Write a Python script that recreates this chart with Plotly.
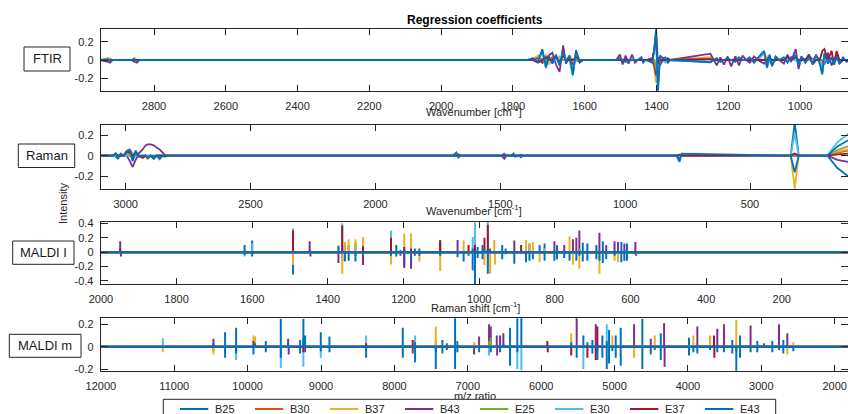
import plotly.graph_objects as go

# ---------------------------------------------------------------- series
series_names = ["B25", "B30", "B37", "B43", "E25", "E30", "E37", "E43"]
series_colors = ["#0072BD", "#D95319", "#EDB120", "#7E2F8E",
                 "#77AC30", "#4DBEEE", "#A2142F", "#0072BD"]

# ---------------------------------------------------------------- FTIR
# wavenumber grid on which the coefficients are sampled (cm^-1)
ftir_wn = [2950, 2928, 2922, 2915, 2862, 2855, 2848, 2840, 1760, 1745, 1730, 1718,
           1708, 1700, 1690, 1680, 1670, 1660, 1652, 1642, 1633, 1624, 1614, 1605,
           1512, 1502, 1494, 1486, 1478, 1468, 1460, 1452, 1442, 1437, 1430, 1412,
           1406, 1401, 1396, 1390, 1382, 1375, 1368, 1362, 1250, 1240, 1232, 1222,
           1212, 1202, 1192, 1180, 1170, 1160, 1150, 1140, 1128, 1118, 1100, 1092,
           1085, 1078, 1068, 1058, 1045, 1035, 1025, 1012, 1004, 996, 985, 975,
           965, 955, 945, 938, 932, 922, 912, 905, 898, 890, 880, 870, 860]
# non-zero coefficients (wavenumber, value)
ftir_B25 = [(2928, .01), (1718, .10), (1708, -.06), (1700, .03), (1690, -.02), (1680, .04),
            (1670, -.05), (1660, .08), (1652, -.02), (1642, .04), (1633, -.14), (1624, .08),
            (1614, -.02), (1406, .10), (1401, .30), (1396, -.30), (1390, .03), (1250, -.02),
            (1100, .08), (1092, -.07), (1085, .05), (1078, -.05), (1012, .04), (1004, -.04),
            (938, -.13), (932, .06)]
ftir_B30 = [(1745, .01), (1730, .04), (1708, .04), (1690, .03), (1642, .04), (1442, .02),
            (1401, -.10), (1250, .02)]
ftir_B37 = [(2928, .02), (2922, .015), (2855, .02), (1730, .05), (1718, -.04), (1708, .06),
            (1700, -.05), (1670, .04), (1642, .05), (1486, .02), (1406, -.10), (1401, -.25),
            (1396, -.20), (1250, .03), (1092, .04), (938, -.05)]
ftir_B43 = [(2928, -.02), (2922, -.03), (2855, -.02), (2848, -.03), (1730, .02), (1718, -.03),
            (1700, .05), (1690, .08), (1680, -.05), (1670, -.13), (1660, .16), (1652, -.04),
            (1642, .03), (1633, -.05), (1614, -.02), (1502, .06), (1494, -.05), (1486, .05),
            (1478, -.04), (1468, .06), (1460, -.03), (1412, .02), (1406, -.06), (1401, -.17),
            (1396, .03), (1390, -.06), (1368, .02), (1250, .07), (1232, -.06), (1222, .03),
            (1212, -.05), (1202, .04), (1192, -.07), (1180, .04), (1170, -.06), (1160, .05),
            (1140, -.03), (1128, .04), (1100, -.04), (1085, .04), (1078, -.06), (1068, .03),
            (1045, -.04), (1035, .06), (1025, -.02), (1012, .12), (1004, -.10), (996, .03),
            (975, .05), (955, .04), (932, -.05), (922, .08), (912, -.06), (898, .06), (890, -.04)]
ftir_E25 = [(1401, -.10), (1250, .015)]
ftir_E30 = [(1718, .08), (1708, -.09), (1700, .02), (1660, .08), (1633, -.16), (1624, .09),
            (1406, .10), (1401, .20), (1396, -.22), (1390, .04), (1375, -.03), (1250, -.02),
            (1100, .08), (1092, -.09), (1078, -.05), (1004, -.04), (938, -.14)]
ftir_E37 = [(1730, -.03), (1708, .03), (1680, .04), (1670, -.03), (1660, .05), (1624, .03),
            (1406, .12), (1401, .30), (1396, -.04), (1250, .01), (1085, .03), (1035, .03),
            (1012, .03), (975, .06), (965, -.05), (938, .10), (932, .12), (912, .10),
            (905, -.05), (898, .10)]
ftir_E43 = [(2928, .01), (2922, -.01), (2855, .01), (2848, -.01), (1745, .02), (1730, -.02),
            (1718, .12), (1708, -.08), (1700, .04), (1690, -.04), (1680, .06), (1670, -.06),
            (1660, .09), (1652, -.02), (1642, .05), (1633, -.17), (1624, .11), (1614, -.03),
            (1502, .02), (1486, -.02), (1442, .03), (1437, -.03), (1412, -.03), (1406, .12),
            (1401, .36), (1396, -.36), (1390, .05), (1382, .02), (1375, .03), (1368, -.03),
            (1250, -.025), (1232, .02), (1222, -.02), (1202, .02), (1180, -.02), (1170, .03),
            (1140, .03), (1128, -.03), (1118, .02), (1100, .10), (1092, -.08), (1085, .06),
            (1078, -.07), (1068, .04), (1045, .03), (1035, -.03), (1025, .03), (1012, .05),
            (1004, -.05), (996, .04), (985, -.03), (975, .03), (965, -.04), (955, .06),
            (945, -.04), (938, -.16), (932, .08), (922, -.04), (912, .03), (905, -.05),
            (898, .04), (890, -.04), (880, .03), (870, -.02)]

# ---------------------------------------------------------------- Raman
raman_wn = [3100, 3052, 3040, 3032, 3020, 3008, 2996, 2984, 2972, 2960, 2948, 2932,
            2920, 2912, 2900, 2888, 2876, 2864, 2852, 2844, 2832, 1690, 1676, 1668, 1660,
            1495, 1484, 1475, 1455, 1447, 1440, 1425, 1417, 1410, 795, 782, 774,
            337, 321, 305, 190, 150, 107]
raman_B25 = [(3040, .02), (3032, -.02), (2984, .03), (2972, -.04), (2960, .02), (1676, .02),
             (1668, -.01), (782, -.03), (321, .32), (150, -.12), (107, -.20)]
raman_B30 = [(2996, .05), (2984, .06), (2972, .02), (2932, -.02), (2912, -.03), (2888, -.025),
             (1447, .01), (150, .03), (107, .05)]
raman_B37 = [(3032, .01), (2996, .04), (2972, .02), (2932, -.02), (2912, -.03), (2888, -.03),
             (2864, -.02), (321, -.32), (150, .04), (107, .06)]
raman_B43 = [(3040, -.01), (3032, -.02), (2984, -.05), (2972, -.11), (2960, -.04), (2948, .02),
             (2932, .06), (2920, .10), (2912, .11), (2900, .11), (2888, .10), (2876, .08),
             (2864, .06), (2852, .03), (2844, .01), (1484, -.03), (1417, -.015),
             (150, -.04), (107, -.06)]
raman_E25 = [(2912, -.02), (2888, -.02), (150, .055), (107, .09)]
raman_E30 = [(3032, -.03), (2984, .05), (2972, -.06), (2960, .04), (2888, -.03), (2864, -.035),
             (1676, .02), (321, .22), (150, .13), (107, .21)]
raman_E37 = [(3040, .02), (2996, .04), (2984, .03), (2960, .03), (2932, -.02), (2912, -.02),
             (2888, -.025), (1668, .01), (782, .01), (321, .02), (150, .012), (107, .02)]
raman_E43 = [(3040, .02), (3032, -.03), (3020, .02), (2996, .03), (2984, .06), (2972, -.05),
             (2960, .05), (2948, -.01), (2912, -.02), (2888, -.03), (2864, -.03), (2844, -.01),
             (1676, .03), (1668, -.02), (1484, .02), (1447, .02), (1440, -.01), (1417, .01),
             (782, -.06), (774, .02), (321, -.16), (150, .09), (107, .15)]

# ---------------------------------------------------------------- MALDI I (peaks)
maldi_i_span = [2000, 20]
maldi_i_B25 = [(1620, .10), (1600, .16), (1492, -.31), (1362, -.12), (1355, .10), (1345, .10),
               (1327, .13), (1233, -.14), (1219, .10), (1198, -.20), (1158, .05), (1028, -.05),
               (1017, -.25), (1004, .07), (991, .10), (939, .10), (867, .12), (827, .12),
               (794, .10), (726, .13), (714, .12), (690, .10), (673, -.15), (624, .14), (609, .12)]
maldi_i_B30 = [(1362, .05), (1233, .04), (1180, -.03), (977, .05), (735, .04)]
maldi_i_B37 = [(1492, -.18), (1372, .10), (1362, -.30), (1355, .14), (1345, .18), (1327, .18),
               (1307, .21), (1233, -.17), (1219, -.04), (1198, .26), (1180, .26), (1158, -.13),
               (1103, -.26), (1041, .16), (986, -.18), (977, -.20), (971, -.30), (960, .17),
               (958, -.17), (889, -.03), (876, .17), (867, .12), (858, .14), (840, -.14),
               (827, .05), (761, .22), (752, -.17), (735, -.23), (682, -.30), (642, -.12),
               (633, -.14)]
maldi_i_B43 = [(1949, .15), (1947, -.06), (1448, .15), (1446, -.06), (1372, -.15), (1327, -.05),
               (1307, -.18), (1208, -.05), (1198, -.22), (1180, -.23), (1170, -.05), (1103, .17),
               (1057, .17), (930, -.03), (907, .16), (801, .15), (775, .10), (752, .18),
               (743, .20), (735, .30), (682, .27), (664, .10), (642, .15), (633, .14),
               (616, .12), (587, .14), (585, -.05)]
maldi_i_E25 = [(1492, .05), (977, -.05), (735, .05)]
maldi_i_E30 = [(1620, -.06), (1600, .12), (1492, .33), (1362, .40), (1233, .30), (1017, .21),
               (1011, .41), (977, .42)]
maldi_i_E37 = [(1949, .05), (1492, .30), (1362, .37), (1307, .08), (1233, .20), (1198, .07),
               (1180, .05), (1103, .15), (1028, .10), (1011, .10), (986, .20), (977, .38),
               (889, .10)]
maldi_i_E43 = [(1949, .02), (1620, -.04), (1600, -.06), (1492, .02), (1448, .03), (1372, .08),
               (1355, -.13), (1345, -.12), (1327, -.13), (1307, -.05), (1233, -.05), (1219, -.06),
               (1208, .03), (1198, .04), (1180, -.10), (1170, .05), (1158, -.05), (1103, -.05),
               (1057, -.07), (1041, -.13), (1017, .05), (1011, -.45), (1004, -.08), (991, -.10),
               (986, .05), (977, -.30), (971, .05), (939, -.10), (930, .05), (907, -.16),
               (876, -.14), (867, -.12), (858, -.10), (840, .10), (827, -.12), (801, -.12),
               (794, -.10), (775, -.08), (761, -.12), (743, -.12), (735, -.05), (726, -.13),
               (714, -.12), (690, -.10), (682, -.12), (673, .15), (664, -.10), (642, -.05),
               (633, .05), (624, -.14), (616, -.12), (609, -.12), (587, -.03)]

# ---------------------------------------------------------------- MALDI m (peaks)
maldi_m_span = [12000, 1800]
maldi_m_B25 = [(10307, .13), (10157, .17), (9752, .05), (9548, .25), (9285, .06), (9240, .25),
               (9003, .13), (8885, .09), (8385, -.10), (7886, .17), (7718, -.14), (7436, -.20),
               (7346, .06), (7173, .27), (7142, -.05), (6424, .17), (6325, .28), (6270, .28),
               (5425, .10), (5302, .06), (5166, .10), (5106, -.20), (5075, .15), (4984, .10),
               (4916, .17), (4621, .25), (4370, .12), (3985, .08), (3396, .06), (3290, .10),
               (3055, .05), (2850, .05), (2700, .06)]
maldi_m_B30 = [(10466, -.04), (7436, .05), (5234, -.05), (3341, -.05)]
maldi_m_B37 = [(11155, -.05), (10466, -.07), (9921, .10), (9898, .09), (7436, .18), (6914, .04),
               (5590, .12), (5030, .10), (4734, -.10), (4452, .10), (3926, .10), (3699, .10),
               (3341, .24), (2646, -.07), (2564, .04)]
maldi_m_B43 = [(10466, .07), (9921, .05), (9448, .07), (9440, -.07), (9217, -.05), (7750, -.06),
               (7286, -.03), (6914, -.07), (6846, .09), (6710, .20), (6687, .18), (6605, .10),
               (6600, -.08), (6560, .10), (6515, .12), (5516, .26), (5256, .20), (4734, .20),
               (4507, .07), (4325, .21), (4318, -.18), (3872, .18), (3600, .16), (3509, .20),
               (3146, .19), (2759, .20), (2646, .12)]
maldi_m_E25 = [(6710, .05), (6687, .08)]
maldi_m_E30 = [(11155, .075), (10157, -.12), (9548, -.19), (9240, -.18), (9003, -.10),
               (8385, .10), (7718, .10), (6710, -.08), (6325, -.20), (6270, -.21), (5425, -.20),
               (5106, .20)]
maldi_m_E37 = [(10157, -.04), (9240, -.05), (8385, .03), (7750, .06), (5916, .05), (5910, -.05),
               (5590, -.08), (5370, -.10), (5256, -.12), (5234, .18), (3645, .10), (3640, -.10)]
maldi_m_E43 = [(10466, .03), (10307, -.10), (10157, -.06), (9921, -.07), (9898, .03), (9752, -.05),
               (9548, -.10), (9448, .03), (9285, -.06), (9240, .08), (9217, .10), (9003, -.04),
               (8885, -.05), (7886, -.10), (7718, .04), (7436, -.05), (7346, -.06), (7286, .03),
               (7173, -.20), (7142, .05), (6846, -.05), (6687, -.05), (6560, -.05), (6515, .03),
               (6424, -.17), (6325, -.05), (5590, .04), (5516, -.10), (5370, .04), (5302, -.06),
               (5234, -.12), (5166, -.10), (5106, .05), (5075, -.15), (5030, -.04), (4984, -.10),
               (4916, -.17), (4621, -.20), (4507, -.07), (4452, -.03), (4370, -.12), (3985, -.08),
               (3926, -.05), (3872, -.06), (3699, -.03), (3600, -.05), (3509, -.05), (3396, -.06),
               (3341, -.24), (3290, -.10), (3146, -.05), (3055, -.05), (2963, .03), (2850, -.05),
               (2759, -.03), (2700, -.06), (2564, -.04)]

# ---------------------------------------------------------------- tick labels
ftir_xticks = [2800, 2600, 2400, 2200, 2000, 1800, 1600, 1400, 1200, 1000]
raman_xticks = [3000, 2500, 2000, 1500, 1000, 500]
maldi_i_xticks = [2000, 1800, 1600, 1400, 1200, 1000, 800, 600, 400, 200]
maldi_m_xticks = [12000, 11000, 10000, 9000, 8000, 7000, 6000, 5000, 4000, 3000, 2000]
coef_yticks = [-0.2, 0, 0.2]
maldi_i_yticks = [-0.4, -0.2, 0, 0.2, 0.4]

# ---------------------------------------------------------------- layout helpers
W, H = 848, 414
AX = "#262626"
FONT = "Liberation Sans, Arial, Helvetica, sans-serif"


def fx(px):
    return px / W


def fy(py):
    return 1 - py / H


def curve_xy(grid, pairs):
    lookup = dict(pairs)
    xs = sorted(set(grid) | set(lookup), reverse=True)
    return xs, [lookup.get(x, 0.0) for x in xs]


def stick_xy(span, pairs):
    xs, ys = [span[0]], [0.0]
    for pos, val in sorted(pairs, key=lambda p: -p[0]):
        xs += [pos, pos, pos]
        ys += [0.0, val, 0.0]
    xs.append(span[1])
    ys.append(0.0)
    return xs, ys


panels = [
    dict(label="FTIR", kind="curve", base=ftir_wn,
         series=[ftir_B25, ftir_B30, ftir_B37, ftir_B43, ftir_E25, ftir_E30, ftir_E37, ftir_E43],
         xrange=[2948.5, 866.3], yrange=[-0.338, 0.338], xticks=ftir_xticks, yticks=coef_yticks,
         top=29.3, bottom=90.7, box=(24, 70, 47, 71)),
    dict(label="Raman", kind="curve", base=raman_wn,
         series=[raman_B25, raman_B30, raman_B37, raman_B43, raman_E25, raman_E30, raman_E37, raman_E43],
         xrange=[3100, 107.6], yrange=[-0.323, 0.297], xticks=raman_xticks, yticks=coef_yticks,
         top=125, bottom=189, box=(18.3, 74.7, 144, 167.5)),
    dict(label="MALDI I", kind="stick", base=maldi_i_span,
         series=[maldi_i_B25, maldi_i_B30, maldi_i_B37, maldi_i_B43,
                 maldi_i_E25, maldi_i_E30, maldi_i_E37, maldi_i_E43],
         xrange=[2000.5, 24.8], yrange=[-0.442, 0.418], xticks=maldi_i_xticks, yticks=maldi_i_yticks,
         top=222, bottom=284, box=(12.7, 74, 241, 264.3)),
    dict(label="MALDI m", kind="stick", base=maldi_m_span,
         series=[maldi_m_B25, maldi_m_B30, maldi_m_B37, maldi_m_B43,
                 maldi_m_E25, maldi_m_E30, maldi_m_E37, maldi_m_E43],
         xrange=[12002, 1818.8], yrange=[-0.215, 0.254], xticks=maldi_m_xticks, yticks=coef_yticks,
         top=318.3, bottom=370.7, box=(9.3, 81, 334.3, 357.3)),
]

fig = go.Figure()
tick_font = dict(family=FONT, size=11, color=AX)

for i, p in enumerate(panels):
    sfx = "" if i == 0 else str(i + 1)
    for name, color, pairs in zip(series_names, series_colors, p["series"]):
        if p["kind"] == "curve":
            xs, ys = curve_xy(p["base"], pairs)
            width = 1.8
        else:
            xs, ys = stick_xy(p["base"], pairs)
            width = 2.0
        fig.add_trace(go.Scatter(x=xs, y=ys, mode="lines", name=name,
                                 line=dict(color=color, width=width, simplify=False),
                                 xaxis="x" + sfx, yaxis="y" + sfx,
                                 showlegend=False, hoverinfo="skip"))

    fig.update_layout(**{
        "xaxis" + sfx: dict(domain=[fx(100.7), 1], anchor="y" + sfx, range=p["xrange"],
                            tickmode="array", tickvals=p["xticks"],
                            ticktext=[str(t) for t in p["xticks"]],
                            ticks="inside", ticklen=6, tickwidth=1, tickcolor=AX,
                            showline=True, linecolor=AX, linewidth=1, mirror="ticks",
                            showgrid=False, zeroline=False, tickfont=tick_font,
                            ticklabelstandoff=5, fixedrange=True),
        "yaxis" + sfx: dict(domain=[fy(p["bottom"]), fy(p["top"])], anchor="x" + sfx,
                            range=p["yrange"], tickmode="array", tickvals=p["yticks"],
                            ticktext=[f"{t:g}" for t in p["yticks"]],
                            ticks="inside", ticklen=7, tickwidth=1, tickcolor=AX,
                            showline=True, linecolor=AX, linewidth=1, mirror="ticks",
                            showgrid=False, zeroline=False, tickfont=tick_font,
                            ticklabelstandoff=4, fixedrange=True),
    })

    x0, x1, y0, y1 = p["box"]
    fig.add_shape(type="rect", xref="paper", yref="paper",
                  x0=fx(x0), x1=fx(x1), y0=fy(y1), y1=fy(y0),
                  line=dict(color=AX, width=1), fillcolor="white")
    fig.add_annotation(text=p["label"], xref="paper", yref="paper",
                       x=fx((x0 + x1) / 2), y=fy((y0 + y1) / 2),
                       xanchor="center", yanchor="middle", showarrow=False,
                       font=dict(family=FONT, size=13, color="#1a1a1a"))

# axis captions as placed in the figure
captions = [("Wavenumber [cm<sup>-1</sup>]", 474, 111),
            ("Wavenumber [cm<sup>-1</sup>]", 474, 210),
            ("Raman shift [cm<sup>-1</sup>]", 475, 306.5)]
for text, cx, cy in captions:
    fig.add_annotation(text=text, xref="paper", yref="paper", x=fx(cx), y=fy(cy),
                       xanchor="center", yanchor="middle", showarrow=False,
                       font=dict(family=FONT, size=11, color=AX))

fig.add_annotation(text="Intensity", xref="paper", yref="paper", x=fx(63), y=fy(204),
                   textangle=-90, xanchor="center", yanchor="middle", showarrow=False,
                   font=dict(family=FONT, size=11, color=AX))
fig.add_annotation(text="<b>Regression coefficients</b>", xref="paper", yref="paper",
                   x=fx(474.5), y=fy(20), xanchor="center", yanchor="middle", showarrow=False,
                   font=dict(family=FONT, size=12, color="#000000"))

# "m/z ratio" sits underneath the legend box, so it is drawn in the plot layer
fig.add_trace(go.Scatter(x=[fx(475)], y=[fy(397)], mode="text", text=["m/z ratio"],
                         textposition="middle center",
                         textfont=dict(family=FONT, size=11, color=AX),
                         xaxis="x5", yaxis="y5", showlegend=False, hoverinfo="skip",
                         cliponaxis=False))
fig.update_layout(
    xaxis5=dict(domain=[0, 1], range=[0, 1], visible=False, fixedrange=True, anchor="y5"),
    yaxis5=dict(domain=[0, 1], range=[0, 1], visible=False, fixedrange=True, anchor="x5"),
)

# legend strip along the bottom edge (one row, eight entries)
leg_left, leg_right, leg_top = 163.3, 775.7, 399.3
fig.add_shape(type="rect", xref="paper", yref="paper", layer="above",
              x0=fx(leg_left), x1=fx(leg_right), y0=fy(H + 20), y1=fy(leg_top),
              line=dict(color=AX, width=1), fillcolor="white")
for k, (name, color) in enumerate(zip(series_names, series_colors)):
    sx = 180 + 75 * k
    fig.add_shape(type="line", xref="paper", yref="paper", layer="above",
                  x0=fx(sx), x1=fx(sx + 28.3), y0=fy(409), y1=fy(409),
                  line=dict(color=color, width=2))
    fig.add_annotation(text=name, xref="paper", yref="paper", x=fx(sx + 33.3), y=fy(409),
                       xanchor="left", yanchor="middle", showarrow=False,
                       font=dict(family=FONT, size=11, color=AX))

fig.update_layout(
    width=W, height=H,
    margin=dict(l=0, r=0, t=0, b=0, autoexpand=False),
    paper_bgcolor="white", plot_bgcolor="rgba(0,0,0,0)",
    showlegend=False,
)

fig.write_html("out.html", config={"displayModeBar": False})
